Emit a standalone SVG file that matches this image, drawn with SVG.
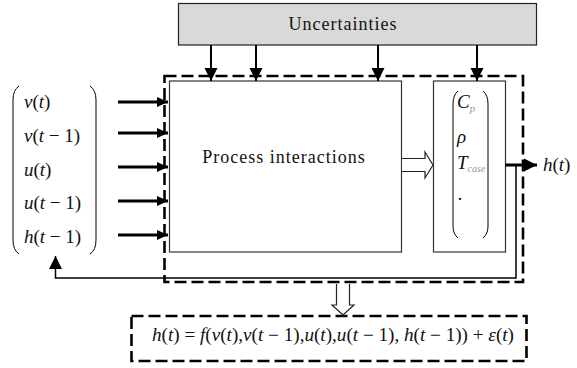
<svg xmlns="http://www.w3.org/2000/svg" width="577" height="368" viewBox="0 0 577 368">
<style>
.box{fill:#fff;stroke:#333;stroke-width:1.2}
.dash{fill:none;stroke:#000;stroke-width:2.6;stroke-dasharray:12 5}
.ln{fill:none;stroke:#000}
.n{font-style:normal}
.g{fill:#999}
.hollow{fill:#fff;stroke:#222;stroke-width:1.2}
</style>
<defs>
<marker id="ah" markerUnits="userSpaceOnUse" markerWidth="14" markerHeight="14" viewBox="0 0 14 14" refX="13" refY="7" orient="auto">
<path d="M0 0.5 L13 7 L0 13.5 Z" fill="#000"/>
</marker>
<marker id="ah2" markerUnits="userSpaceOnUse" markerWidth="12" markerHeight="12" viewBox="0 0 12 12" refX="11" refY="6" orient="auto">
<path d="M0 1 L11 6 L0 11 Z" fill="#000"/>
</marker>
</defs>

<g id="uncertainties">
<rect x="178.5" y="3.5" width="358" height="41.5" fill="#d9d9d9" stroke="#222" stroke-width="1.2"/>
<text font-family="Liberation Serif, serif" fill="#111" x="343" y="30" font-size="18" letter-spacing="1" text-anchor="middle">Uncertainties</text>
</g>

<g id="system">
<rect class="dash" x="164.5" y="76" width="358.5" height="206"/>
</g>

<g id="process">
<rect class="box" x="169.5" y="81" width="232" height="171"/>
<text font-family="Liberation Serif, serif" fill="#111" x="284" y="163" font-size="18" letter-spacing="1" text-anchor="middle">Process interactions</text>
</g>

<g font-family="Liberation Serif, DejaVu Serif, serif" font-style="italic" fill="#111" font-size="19">
<g id="parameters">
<rect class="box" x="433.5" y="81" width="72" height="171"/>
<path class="ln" stroke-width="1" d="M458 91 Q453 95 453 104 L453 226 Q453 234 458 238"/>
<path class="ln" stroke-width="1" d="M483 91 Q488 95 488 104 L488 226 Q488 234 483 238"/>
<text x="457" y="108">C<tspan class="g" font-size="11" dy="4">p</tspan></text>
<text x="457" y="143">ρ</text>
<text x="457" y="169">T<tspan class="g" font-size="10" dy="3">case</tspan></text>
<text x="458" y="200">.</text>
</g>

<g id="inputs">
<path class="ln" stroke-width="1" d="M19 86 Q13 90 13 100 L13 240 Q13 250 19 254"/>
<path class="ln" stroke-width="1" d="M90 86 Q96 90 96 100 L96 240 Q96 250 90 254"/>
<text x="24" y="108">v<tspan class="n">(</tspan>t<tspan class="n">)</tspan></text>
<text x="24" y="142">v<tspan class="n">(</tspan>t<tspan class="n"> − 1)</tspan></text>
<text x="24" y="176">u<tspan class="n">(</tspan>t<tspan class="n">)</tspan></text>
<text x="24" y="209">u<tspan class="n">(</tspan>t<tspan class="n"> − 1)</tspan></text>
<text x="24" y="243">h<tspan class="n">(</tspan>t<tspan class="n"> − 1)</tspan></text>
</g>

<g id="output">
<text x="543" y="171">h<tspan class="n">(</tspan>t<tspan class="n">)</tspan></text>
</g>

<g id="model">
<rect class="dash" x="131.5" y="316" width="395" height="45"/>
<text x="152" y="341" font-size="18" textLength="362" lengthAdjust="spacingAndGlyphs">h<tspan class="n">(</tspan>t<tspan class="n">) = </tspan>f<tspan class="n">(</tspan>v<tspan class="n">(</tspan>t<tspan class="n">),</tspan>v<tspan class="n">(</tspan>t<tspan class="n"> − 1),</tspan>u<tspan class="n">(</tspan>t<tspan class="n">),</tspan>u<tspan class="n">(</tspan>t<tspan class="n"> − 1), </tspan>h<tspan class="n">(</tspan>t<tspan class="n"> − 1)) + </tspan>ε<tspan class="n">(</tspan>t<tspan class="n">)</tspan></text>
</g>
</g>

<g id="connectors">
<line class="ln" stroke-width="2" x1="211" y1="45" x2="211" y2="81" marker-end="url(#ah)"/>
<line class="ln" stroke-width="2" x1="256" y1="45" x2="256" y2="81" marker-end="url(#ah)"/>
<line class="ln" stroke-width="2" x1="378" y1="45" x2="378" y2="81" marker-end="url(#ah)"/>
<line class="ln" stroke-width="2" x1="477" y1="45" x2="477" y2="81" marker-end="url(#ah)"/>
<line class="ln" stroke-width="3" x1="118" y1="102" x2="168" y2="102" marker-end="url(#ah2)"/>
<line class="ln" stroke-width="3" x1="118" y1="133" x2="168" y2="133" marker-end="url(#ah2)"/>
<line class="ln" stroke-width="3" x1="118" y1="167" x2="168" y2="167" marker-end="url(#ah2)"/>
<line class="ln" stroke-width="3" x1="118" y1="201" x2="168" y2="201" marker-end="url(#ah2)"/>
<line class="ln" stroke-width="3" x1="118" y1="235" x2="168" y2="235" marker-end="url(#ah2)"/>
<path class="hollow" d="M402 158.5 L425 158.5 L425 152 L433 165 L425 178 L425 171.5 L402 171.5"/>
<line class="ln" stroke-width="3" x1="505" y1="165" x2="537" y2="165" marker-end="url(#ah)"/>
<path class="ln" stroke-width="1.5" d="M516 165 L516 278 L55.5 278 L55.5 256" marker-end="url(#ah)"/>
<path class="hollow" d="M336.5 284 L336.5 305 L332 305 L343 315 L354 305 L349.5 305 L349.5 284"/>
</g>
</svg>
